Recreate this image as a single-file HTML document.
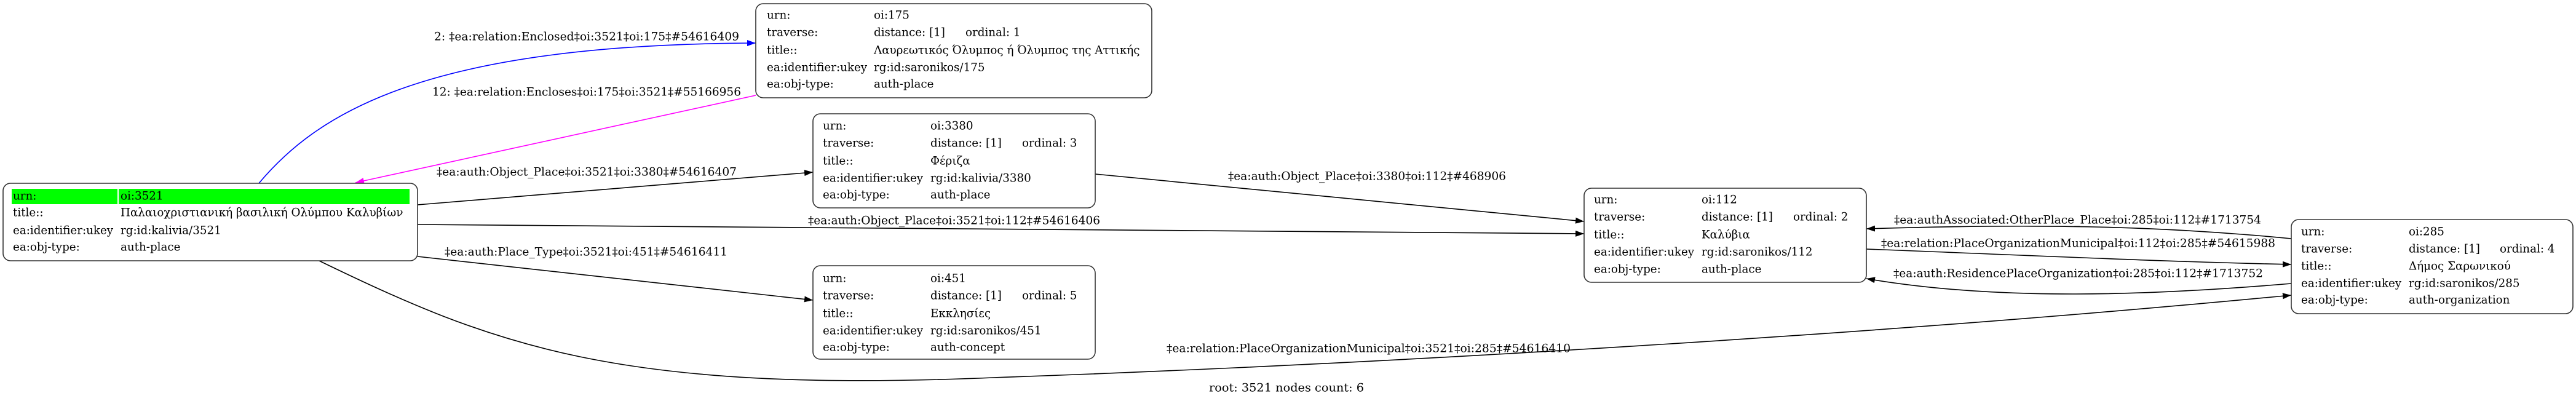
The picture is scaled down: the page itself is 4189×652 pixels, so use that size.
<!DOCTYPE html>
<html><head><meta charset="utf-8"><style>
html,body{margin:0;padding:0;background:#fff;}
svg{display:block;}
text{font-family:"DejaVu Serif","Liberation Serif",serif;font-size:18.3px;fill:#000;dominant-baseline:central;}
.n{fill:#fff;stroke:#333;stroke-width:1.6;}
.e{fill:none;stroke:#000;stroke-width:1.6;}
</style></head><body>
<svg width="4189" height="652" viewBox="0 0 4189 652" xmlns="http://www.w3.org/2000/svg">
<defs>
<marker id="ab" viewBox="0 0 14 10" refX="14" refY="5" markerWidth="14" markerHeight="10" markerUnits="userSpaceOnUse" orient="auto"><path d="M0,0 L14,5 L0,10 z" fill="#000"/></marker>
<marker id="abl" viewBox="0 0 14 10" refX="14" refY="5" markerWidth="14" markerHeight="10" markerUnits="userSpaceOnUse" orient="auto"><path d="M0,0 L14,5 L0,10 z" fill="#0000ff"/></marker>
<marker id="amg" viewBox="0 0 14 10" refX="14" refY="5" markerWidth="14" markerHeight="10" markerUnits="userSpaceOnUse" orient="auto"><path d="M0,0 L14,5 L0,10 z" fill="#ff00ff"/></marker>
</defs>

<!-- edges -->
<path class="e" style="stroke:#0000ff" d="M421,298 C520,180 700,72 1229,70" marker-end="url(#abl)"/>
<text x="706" y="60" textLength="496" lengthAdjust="spacingAndGlyphs">2: ‡ea:relation:Enclosed‡oi:3521‡oi:175‡#54616409</text>
<path class="e" style="stroke:#ff00ff" d="M1229,155 L578,297" marker-end="url(#amg)"/>
<text x="703" y="150" textLength="502" lengthAdjust="spacingAndGlyphs">12: ‡ea:relation:Encloses‡oi:175‡oi:3521‡#55166956</text>

<path class="e" d="M679,333 L1322,280" marker-end="url(#ab)"/>
<text x="710" y="280" textLength="488" lengthAdjust="spacingAndGlyphs">‡ea:auth:Object_Place‡oi:3521‡oi:3380‡#54616407</text>

<path class="e" d="M679,365 L2576,380" marker-end="url(#ab)"/>
<text x="1314" y="359" textLength="475" lengthAdjust="spacingAndGlyphs">‡ea:auth:Object_Place‡oi:3521‡oi:112‡#54616406</text>

<path class="e" d="M1781,283 L2576,360" marker-end="url(#ab)"/>
<text x="1997" y="287" textLength="452" lengthAdjust="spacingAndGlyphs">‡ea:auth:Object_Place‡oi:3380‡oi:112‡#468906</text>

<path class="e" d="M679,417 L1322,488" marker-end="url(#ab)"/>
<text x="723" y="410" textLength="460" lengthAdjust="spacingAndGlyphs">‡ea:auth:Place_Type‡oi:3521‡oi:451‡#54616411</text>

<path class="e" d="M3726,388 C3500,366 3300,364 3035,372" marker-end="url(#ab)"/>
<text x="3080" y="358" textLength="597" lengthAdjust="spacingAndGlyphs">‡ea:authAssociated:OtherPlace_Place‡oi:285‡oi:112‡#1713754</text>

<path class="e" d="M3035,405 C3300,415 3500,425 3726,430" marker-end="url(#ab)"/>
<text x="3059" y="396" textLength="641" lengthAdjust="spacingAndGlyphs">‡ea:relation:PlaceOrganizationMunicipal‡oi:112‡oi:285‡#54615988</text>

<path class="e" d="M3726,461 C3500,480 3250,490 3035,453" marker-end="url(#ab)"/>
<text x="3079" y="445" textLength="601" lengthAdjust="spacingAndGlyphs">‡ea:auth:ResidencePlaceOrganization‡oi:285‡oi:112‡#1713752</text>

<path class="e" d="M519,424 C800,560 1000,640 1615,614 C2300,590 3100,540 3726,480" marker-end="url(#ab)"/>
<text x="1897" y="567" textLength="657" lengthAdjust="spacingAndGlyphs">‡ea:relation:PlaceOrganizationMunicipal‡oi:3521‡oi:285‡#54616410</text>

<text x="1966" y="631" textLength="252" lengthAdjust="spacingAndGlyphs">root: 3521 nodes count: 6</text>

<!-- node 3521 -->
<rect class="n" x="5" y="298" width="674" height="126" rx="12"/>
<rect x="19" y="307" width="172" height="25" fill="#00ff00"/>
<rect x="193" y="307" width="473" height="25" fill="#00ff00"/>
<text x="21" y="319">urn:</text><text x="196" y="319">oi:3521</text>
<text x="21" y="346">title::</text><text x="196" y="346">Παλαιοχριστιανική βασιλική Ολύμπου Καλυβίων</text>
<text x="21" y="375">ea:identifier:ukey</text><text x="196" y="375">rg:id:kalivia/3521</text>
<text x="21" y="402">ea:obj-type:</text><text x="196" y="402">auth-place</text>

<!-- node 175 -->
<rect class="n" x="1229" y="6" width="644" height="153" rx="12"/>
<text x="1247" y="25">urn:</text><text x="1421" y="25">oi:175</text>
<text x="1247" y="53">traverse:</text><text x="1421" y="53">distance: [1]</text><text x="1570" y="53">ordinal: 1</text>
<text x="1247" y="82">title::</text><text x="1421" y="82">Λαυρεωτικός Όλυμπος ή Όλυμπος της Αττικής</text>
<text x="1247" y="110">ea:identifier:ukey</text><text x="1421" y="110">rg:id:saronikos/175</text>
<text x="1247" y="137">ea:obj-type:</text><text x="1421" y="137">auth-place</text>

<!-- node 3380 -->
<rect class="n" x="1322" y="185" width="459" height="153" rx="12"/>
<text x="1338" y="205">urn:</text><text x="1513" y="205">oi:3380</text>
<text x="1338" y="233">traverse:</text><text x="1513" y="233">distance: [1]</text><text x="1662" y="233">ordinal: 3</text>
<text x="1338" y="262">title::</text><text x="1513" y="262">Φέριζα</text>
<text x="1338" y="290">ea:identifier:ukey</text><text x="1513" y="290">rg:id:kalivia/3380</text>
<text x="1338" y="317">ea:obj-type:</text><text x="1513" y="317">auth-place</text>

<!-- node 451 -->
<rect class="n" x="1322" y="432" width="459" height="152" rx="12"/>
<text x="1338" y="453">urn:</text><text x="1513" y="453">oi:451</text>
<text x="1338" y="481">traverse:</text><text x="1513" y="481">distance: [1]</text><text x="1662" y="481">ordinal: 5</text>
<text x="1338" y="510">title::</text><text x="1513" y="510">Εκκλησίες</text>
<text x="1338" y="538">ea:identifier:ukey</text><text x="1513" y="538">rg:id:saronikos/451</text>
<text x="1338" y="565">ea:obj-type:</text><text x="1513" y="565">auth-concept</text>

<!-- node 112 -->
<rect class="n" x="2576" y="306" width="459" height="153" rx="12"/>
<text x="2592" y="325">urn:</text><text x="2767" y="325">oi:112</text>
<text x="2592" y="353">traverse:</text><text x="2767" y="353">distance: [1]</text><text x="2916" y="353">ordinal: 2</text>
<text x="2592" y="382">title::</text><text x="2767" y="382">Καλύβια</text>
<text x="2592" y="410">ea:identifier:ukey</text><text x="2767" y="410">rg:id:saronikos/112</text>
<text x="2592" y="438">ea:obj-type:</text><text x="2767" y="438">auth-place</text>

<!-- node 285 -->
<rect class="n" x="3726" y="357" width="458" height="153" rx="12"/>
<text x="3742" y="377">urn:</text><text x="3917" y="377">oi:285</text>
<text x="3742" y="405">traverse:</text><text x="3917" y="405">distance: [1]</text><text x="4065" y="405">ordinal: 4</text>
<text x="3742" y="433">title::</text><text x="3917" y="433">Δήμος Σαρωνικού</text>
<text x="3742" y="461">ea:identifier:ukey</text><text x="3917" y="461">rg:id:saronikos/285</text>
<text x="3742" y="488">ea:obj-type:</text><text x="3917" y="488">auth-organization</text>
</svg>
</body></html>
